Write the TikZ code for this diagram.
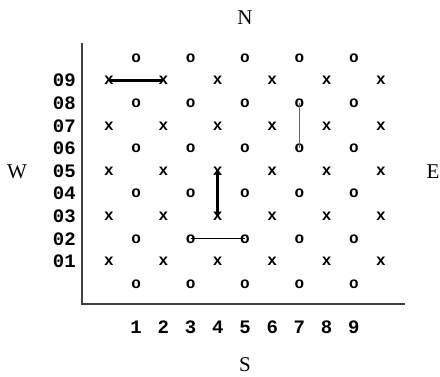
\documentclass[tikz,border=0pt]{standalone}
\usepackage{fontspec}
\setmainfont{Liberation Serif}
\setmonofont{Liberation Mono}
\begin{document}
\begin{tikzpicture}[x=1pt,y=-1pt,
  xmk/.style={inner sep=0pt,font=\fontsize{16}{16}\selectfont\ttfamily\bfseries},
  omk/.style={inner sep=0pt,font=\fontsize{16}{16}\selectfont\ttfamily\bfseries},
  lbl/.style={inner sep=0pt,font=\fontsize{19}{19}\selectfont\ttfamily\bfseries},
  dir/.style={inner sep=0pt,font=\fontsize{21}{21}\selectfont},
  axis/.style={draw=black!75,line width=1.2pt},
  heavy/.style={line width=3pt},
  light/.style={line width=1pt}]
\useasboundingbox (0,0) rectangle (440,376);
% axes
\coordinate (ytop) at (82,43);
\coordinate (orig) at (82,304);
\coordinate (xend) at (405,304);
\draw[axis] (ytop) -- (orig) -- (xend);
% grid marks
\foreach \c in {0,2,4,6,8,10}{
  \foreach \r in {1,3,5,7,9}{
    \node[xmk] (p-\c-\r) at ({109+27.2*\c},{284-22.6*\r}) {x};
  }
}
\foreach \c in {1,3,5,7,9}{
  \foreach \r in {0,2,4,6,8,10}{
    \node[omk] (p-\c-\r) at ({109+27.2*\c},{284-22.6*\r}) {o};
  }
}
% row labels
\foreach \r in {1,...,9}{
  \node[lbl,anchor=east] (row\r) at (76,{284-22.6*\r}) {0\r};
}
% column labels
\foreach \c in {1,...,9}{
  \node[lbl] (col\c) at ({109+27.2*\c},327) {\c};
}
% compass
\node[dir] (N) at (245,18) {N};
\node[dir] (S) at (245,365) {S};
\node[dir] (W) at (17,172) {W};
\node[dir] (E) at (433,172) {E};
% links
\draw[heavy] (p-0-9.center) -- (p-2-9.center);
\draw[heavy] (p-4-5.center) -- (p-4-3.center);
\draw[light,draw=black!60] (p-7-8.center) -- (p-7-6.center);
\draw[light] (p-3-2.center) -- (p-5-2.center);
\end{tikzpicture}
\end{document}
